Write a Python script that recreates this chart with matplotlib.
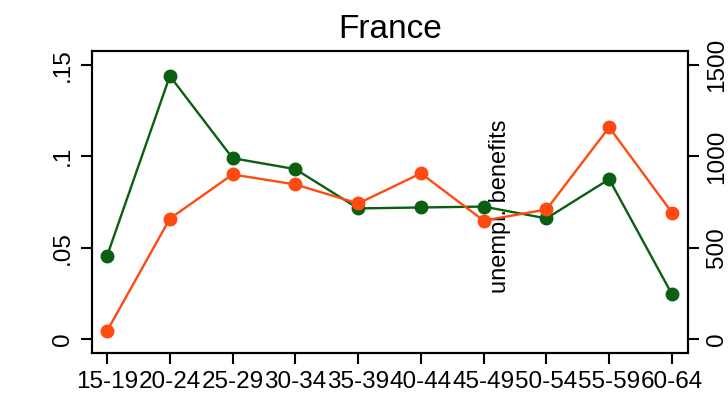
import matplotlib
matplotlib.use("Agg")
import matplotlib.pyplot as plt

plt.rcParams['font.family'] = ['Liberation Sans', 'DejaVu Sans']

age_groups = ["15-19", "20-24", "25-29", "30-34", "35-39",
              "40-44", "45-49", "50-54", "55-59", "60-64"]
unemp_rate = [0.0455, 0.144, 0.099, 0.093, 0.0715, 0.072, 0.0725, 0.066, 0.0875, 0.0245]
unempl_benefits = [44, 659, 901, 846, 742, 907, 648, 709, 1159, 692]

left_ticks = [0, 0.05, 0.10, 0.15]
left_tick_labels = ["0", ".05", ".1", ".15"]
right_ticks = [0, 500, 1000, 1500]
right_tick_labels = ["0", "500", "1000", "1500"]

green = "#0b5f12"
orange = "#ff4a12"

fig = plt.figure(figsize=(7.28, 3.94), dpi=100)
ax = fig.add_axes([0.1264, 0.104, 0.8186, 0.7666])
ax2 = ax.twinx()

x = list(range(len(age_groups)))
ax.plot(x, unemp_rate, color=green, lw=1.7, marker="o", ms=9, zorder=3)
ax2.plot(x, unempl_benefits, color=orange, lw=1.7, marker="o", ms=9, zorder=3)

ax.set_xlim(-0.24, 9.255)
ax.set_ylim(-0.0077, 0.1577)
ax2.set_ylim(-77, 1577)

ax.set_xticks(x)
ax.set_xticklabels(age_groups, fontsize=17.5)
ax.set_yticks(left_ticks)
ax.set_yticklabels(left_tick_labels, fontsize=17.5, rotation=90, va="center")
ax2.set_yticks(right_ticks)
ax2.set_yticklabels(right_tick_labels, fontsize=17.5, rotation=90, va="center")

for a in (ax, ax2):
    for s in a.spines.values():
        s.set_linewidth(1.5)
    a.tick_params(width=1.5, length=8, pad=5, colors="black")

ax.text(0.685, 0.487, "unempl. benefits", transform=ax.transAxes,
        rotation=90, ha="center", va="center", fontsize=17)

fig.text(0.536, 0.925, "France", ha="center", va="center", fontsize=24)

fig.savefig("out.png", dpi=100)
